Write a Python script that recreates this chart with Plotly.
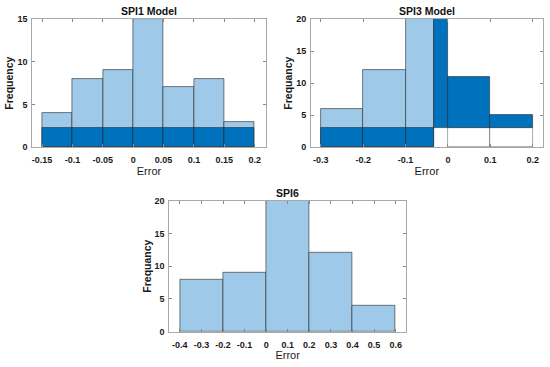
import plotly.graph_objects as go

# ---------------- data ----------------
spi1_edges = [-0.15, -0.10, -0.05, 0.0, 0.05, 0.10, 0.15, 0.20]
spi1_counts = [4, 8, 9, 15, 7, 8, 3]
spi1_dark = [2.25, 2.25, 2.25, 2.25, 2.25, 2.25, 2.25]

spi3_light_edges = [-0.30, -0.20, -0.10, -0.033]
spi3_light_counts = [6, 12, 21]
spi3_dark_low_edges = [-0.30, -0.20, -0.10, -0.033]
spi3_dark_low = [3, 3, 3]
spi3_dark_high_edges = [-0.033, 0.0, 0.10, 0.20]
spi3_dark_high_top = [21, 11, 5]
spi3_dark_high_base = [3, 3, 3]
spi3_empty_edges = [0.0, 0.10, 0.20]
spi3_empty = [3, 3]

spi6_edges = [-0.4, -0.2, 0.0, 0.2, 0.4, 0.6]
spi6_counts = [8, 9, 21, 12, 4]

spi1_xticks = [-0.15, -0.1, -0.05, 0, 0.05, 0.1, 0.15, 0.2]
spi1_xlabels = ["-0.15", "-0.1", "-0.05", "0", "0.05", "0.1", "0.15", "0.2"]
spi3_xticks = [-0.3, -0.2, -0.1, 0, 0.1, 0.2]
spi3_xlabels = ["-0.3", "-0.2", "-0.1", "0", "0.1", "0.2"]
spi6_xticks = [-0.4, -0.3, -0.2, -0.1, 0, 0.1, 0.2, 0.3, 0.4, 0.5, 0.6]
spi6_xlabels = ["-0.4", "-0.3", "-0.2", "-0.1", "0", "0.1", "0.2", "0.3", "0.4", "0.5", "0.6"]

titles = ["SPI1 Model", "SPI3 Model", "SPI6"]
ylabels = ["Frequency", "Frequancy", "Frequancy"]

LIGHT = "#9FC9E8"
DARK = "#0071BD"
EDGE = "rgba(40,40,40,0.75)"
FONT = "Liberation Sans Narrow, Arial Narrow, Liberation Sans, Arial"


def bars(edges, tops, color, xa, ya, base=None, line=EDGE):
    centers = [(edges[i] + edges[i + 1]) / 2 for i in range(len(tops))]
    widths = [edges[i + 1] - edges[i] for i in range(len(tops))]
    if base is None:
        heights = list(tops)
        b = [0] * len(tops)
    else:
        heights = [t - bb for t, bb in zip(tops, base)]
        b = list(base)
    return go.Bar(x=centers, y=heights, base=b, width=widths,
                  marker=dict(color=color, line=dict(color=line, width=0.8)),
                  xaxis=xa, yaxis=ya, showlegend=False, hoverinfo="skip")


fig = go.Figure()
# SPI1
fig.add_trace(bars(spi1_edges, spi1_counts, LIGHT, "x", "y"))
fig.add_trace(bars(spi1_edges, spi1_dark, DARK, "x", "y"))
# SPI3
fig.add_trace(bars(spi3_light_edges, spi3_light_counts, LIGHT, "x2", "y2"))
fig.add_trace(bars(spi3_dark_low_edges, spi3_dark_low, DARK, "x2", "y2"))
fig.add_trace(bars(spi3_empty_edges, spi3_empty, "rgba(255,255,255,0)", "x2", "y2",
                   line="rgba(120,120,120,0.8)"))
fig.add_trace(bars(spi3_dark_high_edges, spi3_dark_high_top, DARK, "x2", "y2",
                   base=spi3_dark_high_base))
# SPI6
fig.add_trace(bars(spi6_edges, spi6_counts, LIGHT, "x3", "y3"))

W, H = 550, 367
def px_x(a, b):
    return [a / W, b / W]
def px_y(top, bottom):
    return [1 - bottom / H, 1 - top / H]

axis_common = dict(showline=True, linecolor="#a8a8a8", linewidth=1, mirror="ticks",
                   ticks="inside", ticklen=3, tickcolor="#888888", showgrid=False,
                   zeroline=False, automargin=False,
                   tickfont=dict(family=FONT, size=9, color="#1a1a1a", weight="bold"))
xt = dict(ticklabelstandoff=4)
yt = dict(ticklabelstandoff=2)
xtitle_font = dict(family=FONT, size=11, color="#1a1a1a")
ytitle_font = dict(family=FONT, size=10.5, color="#1a1a1a")

fig.update_layout(
    width=W, height=H, margin=dict(l=0, r=0, t=0, b=0, autoexpand=False),
    plot_bgcolor="white", paper_bgcolor="white", barmode="overlay", bargap=0,
    xaxis=dict(domain=px_x(32.3, 265.7), range=[-0.166, 0.218], anchor="y",
               tickvals=spi1_xticks, ticktext=spi1_xlabels,
               title=dict(text="Error", standoff=3, font=xtitle_font), **xt, **axis_common),
    yaxis=dict(domain=px_y(19, 147.3), range=[0, 15], anchor="x", tickvals=[0, 5, 10, 15],
               **yt, **axis_common),
    xaxis2=dict(domain=px_x(311, 542.7), range=[-0.323, 0.2236], anchor="y2",
                tickvals=spi3_xticks, ticktext=spi3_xlabels,
                title=dict(text="Error", standoff=3, font=xtitle_font), **xt, **axis_common),
    yaxis2=dict(domain=px_y(19, 147.3), range=[0, 20], anchor="x2", tickvals=[0, 5, 10, 15, 20],
                **yt, **axis_common),
    xaxis3=dict(domain=px_x(169.3, 406), range=[-0.449, 0.648], anchor="y3",
                tickvals=spi6_xticks, ticktext=spi6_xlabels,
                title=dict(text="Error", standoff=1, font=xtitle_font), **xt, **axis_common),
    yaxis3=dict(domain=px_y(200.7, 331.7), range=[0, 20], anchor="x3", tickvals=[0, 5, 10, 15, 20],
                **yt, **axis_common),
)

title_pos = [((32.3 + 265.7) / 2, 11), ((311 + 542.7) / 2, 11), ((169.3 + 406) / 2, 193.3)]
for t, (cx, cy) in zip(titles, title_pos):
    fig.add_annotation(text="<b>" + t + "</b>", x=cx / W, y=1 - cy / H, xref="paper", yref="paper",
                       showarrow=False, xanchor="center", yanchor="middle",
                       font=dict(family=FONT, size=10.5, color="#111"))

ytitle_pos = [(9.5, (19 + 147.3) / 2), (288.5, (19 + 147.3) / 2), (147.5, (200.7 + 331.7) / 2)]
for t, (cx, cy) in zip(ylabels, ytitle_pos):
    fig.add_annotation(text="<b>" + t + "</b>", x=cx / W, y=1 - cy / H, xref="paper", yref="paper",
                       showarrow=False, xanchor="center", yanchor="middle", textangle=-90,
                       font=ytitle_font)

fig.write_html("out.html", config={"displayModeBar": False},
               post_script="document.body.style.margin='0';document.body.style.overflow='hidden';")
